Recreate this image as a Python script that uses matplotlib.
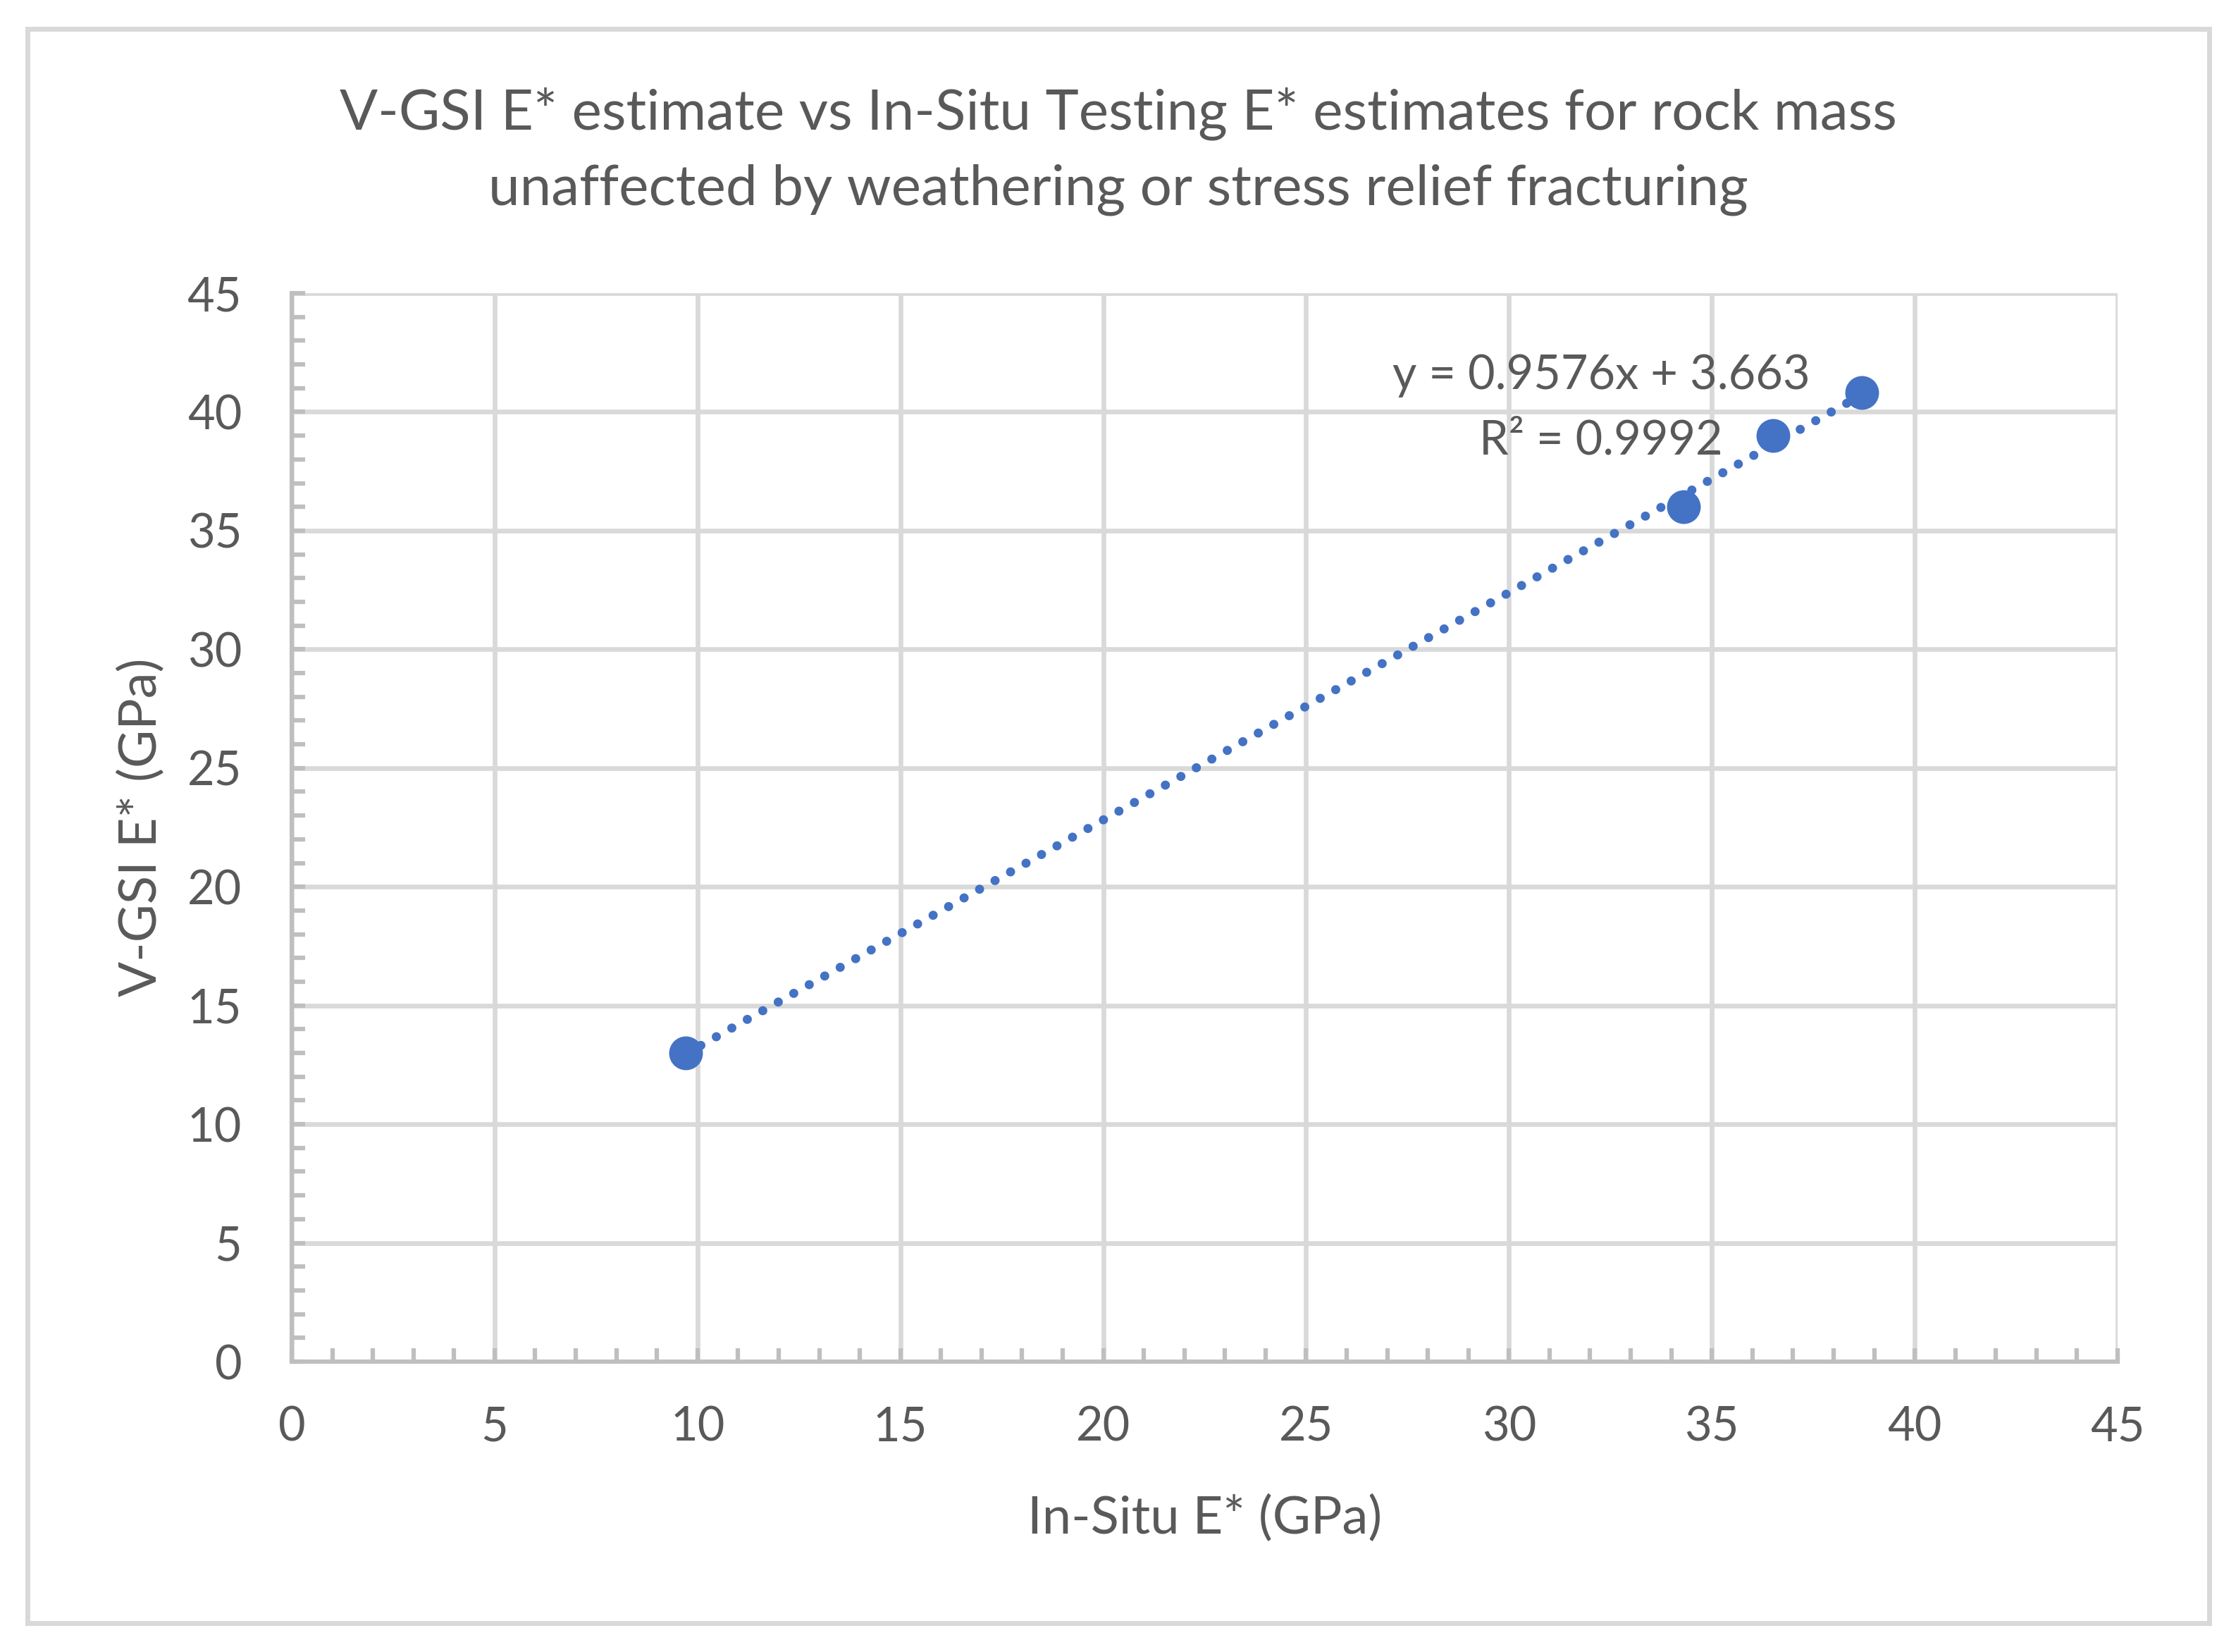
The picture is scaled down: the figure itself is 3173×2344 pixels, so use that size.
import numpy as np
import matplotlib
matplotlib.use("Agg")
import matplotlib.pyplot as plt
from matplotlib.ticker import MultipleLocator
from matplotlib.patches import Rectangle

# ---- data ----
in_situ_E = [9.7, 34.3, 36.5, 38.7]
vgsi_E = [13.0, 36.0, 39.0, 40.8]
title_lines = ["V-GSI E* estimate vs In-Situ Testing E* estimates for rock mass",
               "unaffected by weathering or stress relief fracturing"]
x_label = "In-Situ E* (GPa)"
y_label = "V-GSI E* (GPa)"
eq_lines = ["y = 0.9576x + 3.663", "R\u00b2 = 0.9992"]
x_ticks = list(range(0, 46, 5))
y_ticks = list(range(0, 46, 5))

plt.rcParams['font.family'] = ['Lato', 'DejaVu Sans']
TXT = '#595959'
GRID = '#D9D9D9'
AXC = '#BFBFBF'
BLUE = '#4472C4'

W, H = 3173, 2344
fig = plt.figure(figsize=(W / 300, H / 300), dpi=300)
fig.patch.set_facecolor('white')

# outer chart border
fig.add_artist(Rectangle((38.5 / W, 1 - 2302.5 / H), (3134.5 - 38.5) / W, (2302.5 - 40.5) / H,
                         transform=fig.transFigure, fill=False, edgecolor=GRID, linewidth=1.68))

L, R, T, B = 414, 3005, 416, 1932
ax = fig.add_axes([L / W, 1 - B / H, (R - L) / W, (B - T) / H])
ax.set_xlim(0, 45)
ax.set_ylim(0, 45)
ax.set_xticks(x_ticks)
ax.set_yticks(y_ticks)
ax.xaxis.set_minor_locator(MultipleLocator(1))
ax.yaxis.set_minor_locator(MultipleLocator(1))
ax.grid(True, which='major', color=GRID, linewidth=1.6, zorder=0)
ax.set_axisbelow(True)
for s in ['top', 'right']:
    ax.spines[s].set_visible(False)
for s in ['left', 'bottom']:
    ax.spines[s].set_color(AXC)
    ax.spines[s].set_linewidth(1.45)
ax.tick_params(which='both', direction='in', length=4.6, width=1.5, color=AXC)
ax.tick_params(axis='both', which='major', labelsize=16, labelcolor=TXT)
ax.tick_params(axis='x', which='major', pad=15)
ax.tick_params(axis='y', which='major', pad=17)

# data points
ax.plot(in_situ_E, vgsi_E, linestyle='none', marker='o', markersize=11.5,
        color=BLUE, markeredgewidth=0, zorder=3)

# linear trendline
coef = np.polyfit(in_situ_E, vgsi_E, 1)
xs = np.array([min(in_situ_E), max(in_situ_E)])
ax.plot(xs, np.polyval(coef, xs), color=BLUE, linewidth=3.1,
        linestyle=(0, (0.01, 1.94)), dash_capstyle='round', zorder=4)

# equation labels
ax.text(32.27, 40.96, eq_lines[0], ha='center', va='baseline', fontsize=16, color=TXT, zorder=5)
ax.text(32.27, 38.23, eq_lines[1], ha='center', va='baseline', fontsize=16, color=TXT, zorder=5)

# axis labels
ax.set_xlabel(x_label, fontsize=17.8, color=TXT, va='baseline')
ax.xaxis.set_label_coords(0.5, (B - 2176) / (B - T))
ax.set_ylabel(y_label, fontsize=17.8, color=TXT, va='baseline')
ax.yaxis.set_label_coords((222 - L) / (R - L), 0.5)

# title
fig.text(0.5, 1 - 183 / H, title_lines[0], ha='center', va='baseline', fontsize=19.2, color=TXT)
fig.text(0.5, 1 - 290 / H, title_lines[1], ha='center', va='baseline', fontsize=19.2, color=TXT)

fig.savefig('out.png', dpi=300, facecolor='white')
